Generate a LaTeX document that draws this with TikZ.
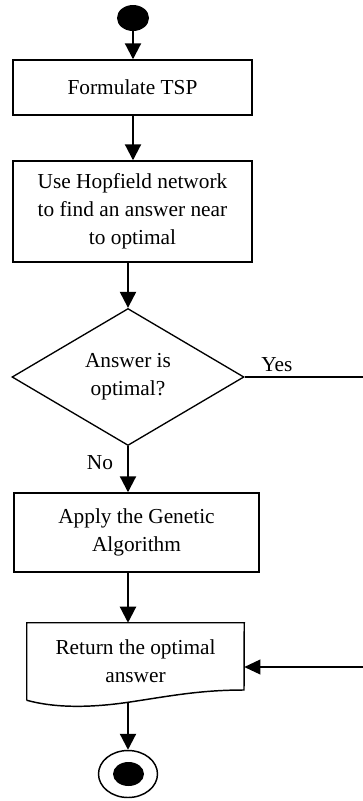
\documentclass[tikz,border=0pt]{standalone}
\usepackage{fontspec}
\setmainfont{Liberation Serif}
\usetikzlibrary{shapes.geometric,arrows.meta}
\begin{document}
\begin{tikzpicture}[x=0.75pt,y=-0.75pt,
  every node/.style={font=\fontsize{16pt}{21pt}\selectfont},
  box/.style={draw,line width=1.1pt,rectangle,inner sep=0pt,align=center},
  plainbox/.style={rectangle,inner sep=0pt,align=center},
  decision/.style={draw,line width=1.0pt,diamond,aspect=1.7,inner sep=0pt,align=center,minimum width=174pt,minimum height=102.75pt},
  arr/.style={line width=1.6pt,-{Triangle[width=12pt,length=12pt]}},
  thinarr/.style={line width=1.2pt,-{Triangle[width=11pt,length=12pt]}},
  lbl/.style={inner sep=0pt}]
\useasboundingbox (0,0) rectangle (362,801);

\node[ellipse,fill=black,inner sep=0pt,minimum width=24pt,minimum height=19.5pt] (start) at (133,18) {};
\node[box,minimum width=179.25pt,minimum height=41.25pt] (b1) at (132.5,87.5) {Formulate TSP};
\node[box,minimum width=179.25pt,minimum height=75.75pt] (b2) at (132.5,211.5) {Use Hopfield network\\to find an answer near\\to optimal};
\node[decision] (d) at (128,377) {Answer is\\optimal?};
\node[box,minimum width=183.75pt,minimum height=59.25pt] (b3) at (136.5,532.5) {Apply the Genetic\\Algorithm};
\node[plainbox,minimum width=162.75pt,minimum height=57.75pt] (b4) at (135.5,661.5) {Return the optimal\\answer};
\draw[line width=1.1pt] (b4.south west) -- (b4.north west) -- (b4.north east) -- (244,690)
  .. controls (200,690) and (170,696) .. (130,702)
  .. controls (90,708) and (55,708) .. (b4.south west);
\coordinate (b4b) at (128,703);
\node[ellipse,draw,line width=1.1pt,inner sep=0pt,minimum width=44.25pt,minimum height=35.25pt] (end) at (128,774) {};
\node[ellipse,fill=black,inner sep=0pt,minimum width=23.25pt,minimum height=18pt] (endin) at (128.5,774) {};

\draw[arr] (start) -- (start.south |- b1.north);
\draw[arr] (b1.south -| start) -- (b2.north -| start);
\draw[arr] (b2.south -| d.north) -- (d.north);
\draw[arr] (d.south) -- (b3.north -| d.south);
\draw[arr] (b3.south -| d.south) -- (b4.north -| d.south);
\draw[arr] (b4b) -- (end.north);

\coordinate (c2) at (368,667);
\draw[thinarr] (d.east) -- (d.east -| c2) -- (c2) -- (b4.east |- c2);

\node[lbl] (yes) at (277,365) {Yes};
\node[lbl] (no) at (100,463) {No};
\end{tikzpicture}
\end{document}
